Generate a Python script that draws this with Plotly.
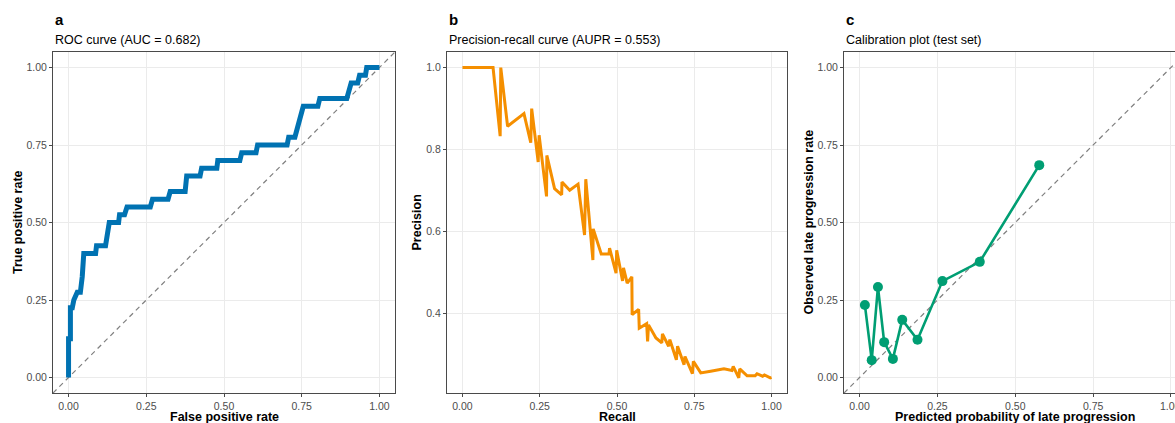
import plotly.graph_objects as go

# ---------------- data ----------------
roc_fpr = [0.000, 0.000, 0.006, 0.006, 0.012, 0.017, 0.028, 0.038, 0.044, 0.049,
           0.087, 0.090, 0.119, 0.125, 0.131, 0.161, 0.164, 0.180, 0.188, 0.263,
           0.270, 0.320, 0.327, 0.375, 0.380, 0.423, 0.428, 0.477, 0.480, 0.551,
           0.557, 0.603, 0.608, 0.703, 0.708, 0.728, 0.735, 0.740, 0.745, 0.755,
           0.802, 0.808, 0.895, 0.900, 0.909, 0.930, 0.936, 0.955, 0.959, 1.000]
roc_tpr = [0.000, 0.125, 0.125, 0.225, 0.225, 0.250, 0.275, 0.275, 0.325, 0.400,
           0.400, 0.425, 0.425, 0.475, 0.500, 0.500, 0.525, 0.525, 0.550, 0.550,
           0.575, 0.575, 0.600, 0.600, 0.650, 0.650, 0.675, 0.675, 0.700, 0.700,
           0.725, 0.725, 0.750, 0.750, 0.775, 0.775, 0.800, 0.825, 0.850, 0.875,
           0.875, 0.900, 0.900, 0.925, 0.950, 0.950, 0.975, 0.975, 1.000, 1.000]

pr_recall = [0.000, 0.099, 0.122, 0.124, 0.146, 0.199, 0.221, 0.224, 0.245, 0.248,
             0.272, 0.273, 0.298, 0.321, 0.322, 0.347, 0.374, 0.395, 0.399, 0.422,
             0.423, 0.449, 0.474, 0.476, 0.497, 0.499, 0.518, 0.521, 0.533, 0.548,
             0.549, 0.570, 0.572, 0.596, 0.599, 0.602, 0.626, 0.645, 0.647, 0.667,
             0.671, 0.692, 0.696, 0.717, 0.720, 0.744, 0.747, 0.771, 0.803, 0.846,
             0.872, 0.876, 0.894, 0.897, 0.921, 0.947, 0.953, 0.971, 0.977, 0.996,
             1.000]
pr_precision = [1.000, 1.000, 0.833, 1.000, 0.857, 0.888, 0.817, 0.900, 0.770, 0.835,
                0.686, 0.786, 0.705, 0.690, 0.721, 0.701, 0.716, 0.592, 0.728, 0.531,
                0.607, 0.546, 0.546, 0.560, 0.499, 0.555, 0.480, 0.512, 0.475, 0.490,
                0.398, 0.411, 0.365, 0.376, 0.333, 0.373, 0.341, 0.329, 0.351, 0.321,
                0.337, 0.288, 0.321, 0.276, 0.296, 0.254, 0.284, 0.256, 0.260, 0.266,
                0.262, 0.272, 0.244, 0.266, 0.249, 0.249, 0.254, 0.248, 0.251, 0.244,
                0.245]

cal_pred = [0.017, 0.039, 0.059, 0.079, 0.107, 0.137, 0.186, 0.266, 0.386, 0.577]
cal_obs = [0.234, 0.056, 0.292, 0.114, 0.060, 0.186, 0.122, 0.311, 0.373, 0.685]

diag = [-0.05, 1.05]

tick_vals_01 = [0, 0.25, 0.5, 0.75, 1.0]
tick_text_01 = ["0.00", "0.25", "0.50", "0.75", "1.00"]
tick_vals_prec = [0.4, 0.6, 0.8, 1.0]
tick_text_prec = ["0.4", "0.6", "0.8", "1.0"]

panel_letters = ["a", "b", "c"]
subtitles = ["ROC curve (AUC = 0.682)", "Precision-recall curve (AUPR = 0.553)",
             "Calibration plot (test set)"]
x_titles = ["False positive rate", "Recall", "Predicted probability of late progression"]
y_titles = ["True positive rate", "Precision", "Observed late progression rate"]

# ---------------- layout helpers ----------------
W, H = 1175, 423
FONT = "Liberation Sans, Arial, Helvetica, sans-serif"


def px(x):
    return x / W


def py(y):
    return 1 - y / H


panel_left = [53, 447, 844]
panel_right = [395, 787, 1175]
xtitle_cx = [224, 617, 1015]
panel_top, panel_bottom = 52, 393
ytitle_x = [17.5, 416, 808]

fig = go.Figure()

DIAG = dict(color="#7f7f7f", width=1.2, dash="5px,4px")

fig.add_trace(go.Scatter(x=diag, y=diag, mode="lines", line=DIAG,
                         xaxis="x", yaxis="y", hoverinfo="skip"))
fig.add_trace(go.Scatter(x=roc_fpr, y=roc_tpr, mode="lines",
                         line=dict(color="#0072B2", width=5),
                         xaxis="x", yaxis="y"))
fig.add_trace(go.Scatter(x=pr_recall, y=pr_precision, mode="lines",
                         line=dict(color="#F58F00", width=3),
                         xaxis="x2", yaxis="y2"))
fig.add_trace(go.Scatter(x=diag, y=diag, mode="lines", line=DIAG,
                         xaxis="x3", yaxis="y3", hoverinfo="skip"))
fig.add_trace(go.Scatter(x=cal_pred, y=cal_obs, mode="lines+markers",
                         line=dict(color="#009E73", width=2.6),
                         marker=dict(color="#009E73", size=10),
                         xaxis="x3", yaxis="y3"))

common_axis = dict(
    showgrid=True, gridcolor="#EBEBEB", gridwidth=1, zeroline=False,
    showline=True, linecolor="#4a4a4a", linewidth=1,
    ticks="outside", ticklen=3, tickcolor="#4a4a4a", tickwidth=1,
    tickfont=dict(family=FONT, size=10.5, color="#4D4D4D"),
    fixedrange=True,
)

ydom = [py(panel_bottom), py(panel_top)]
x_ranges = [[-0.05, 1.05], [-0.05, 1.05], [-0.05, (1175 - 860) / 311]]
y_ranges = [[-0.05, 1.05], [0.207, 1.038], [-0.05, 1.05]]

layout = dict(
    width=W, height=H, margin=dict(l=0, r=0, t=0, b=0),
    paper_bgcolor="white", plot_bgcolor="white", showlegend=False,
    font=dict(family=FONT),
)
for i in range(3):
    sfx = "" if i == 0 else str(i + 1)
    xa = dict(common_axis)
    xa.update(domain=[px(panel_left[i]), px(panel_right[i])], range=x_ranges[i],
              tickvals=tick_vals_01, ticktext=tick_text_01, anchor="y" + sfx,
              mirror=True)
    ya = dict(common_axis)
    if i == 1:
        ya.update(tickvals=tick_vals_prec, ticktext=tick_text_prec)
    else:
        ya.update(tickvals=tick_vals_01, ticktext=tick_text_01)
    ya.update(domain=ydom, range=y_ranges[i], anchor="x" + sfx,
              mirror=(i != 2))
    layout["xaxis" + sfx] = xa
    layout["yaxis" + sfx] = ya

annotations = []
for i in range(3):
    annotations.append(dict(text="<b>%s</b>" % panel_letters[i], x=px(panel_left[i]),
                            y=py(20), xref="paper", yref="paper", xanchor="left",
                            yanchor="middle", showarrow=False,
                            font=dict(family=FONT, size=15, color="black")))
    annotations.append(dict(text=subtitles[i], x=px(panel_left[i]), y=py(40),
                            xref="paper", yref="paper", xanchor="left",
                            yanchor="middle", showarrow=False,
                            font=dict(family=FONT, size=12.5, color="black")))
    annotations.append(dict(text="<b>%s</b>" % x_titles[i], x=px(xtitle_cx[i]),
                            y=py(408), xref="paper", yref="paper", xanchor="center",
                            yanchor="top", showarrow=False,
                            font=dict(family=FONT, size=12.5, color="black")))
    annotations.append(dict(text="<b>%s</b>" % y_titles[i], x=px(ytitle_x[i]),
                            y=py((panel_top + panel_bottom) / 2),
                            xref="paper", yref="paper", xanchor="center",
                            yanchor="middle", textangle=-90, showarrow=False,
                            font=dict(family=FONT, size=12.5, color="black")))
# partially visible last tick label of panel c (cut by the image edge)
annotations.append(dict(text=tick_text_01[-1], x=tick_vals_01[-1], xref="x3",
                        y=py(398), yref="paper", xanchor="center", yanchor="top",
                        showarrow=False,
                        font=dict(family=FONT, size=10.5, color="#4D4D4D")))
layout["annotations"] = annotations

fig.update_layout(**layout)
fig.write_html("out.html")
